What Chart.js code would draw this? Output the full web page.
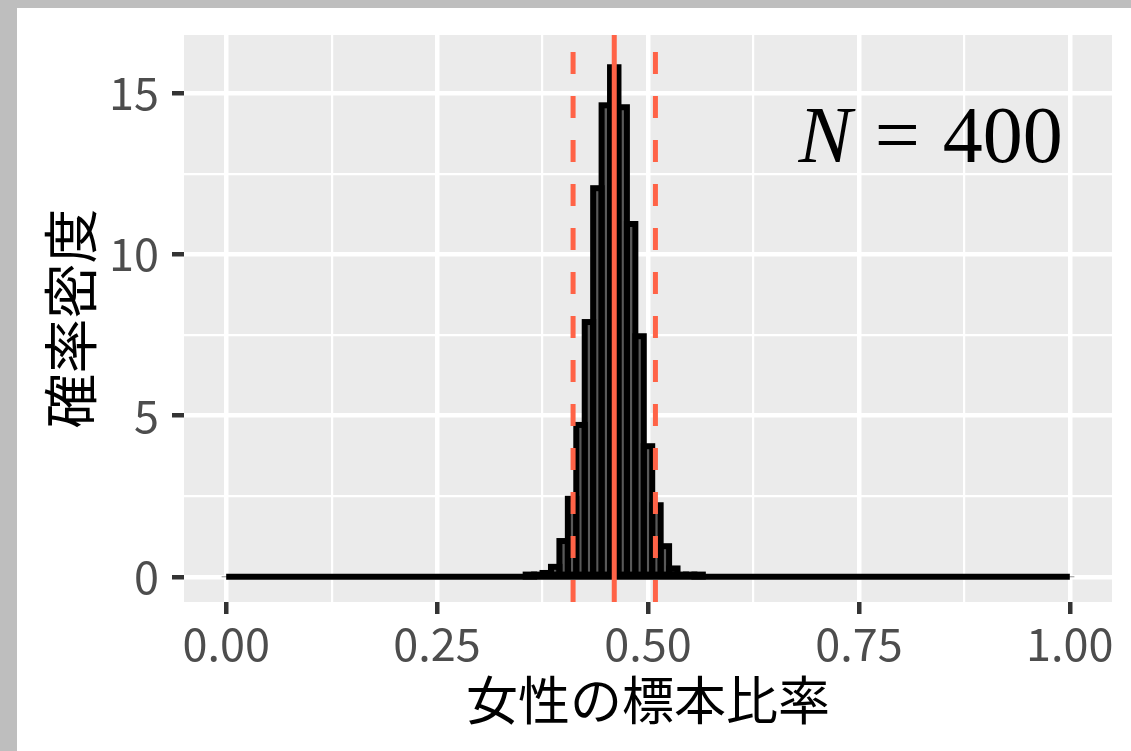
<!DOCTYPE html>
<html>
<head>
<meta charset="utf-8">
<script src="https://cdn.jsdelivr.net/npm/chart.js@4.4.1/dist/chart.umd.min.js"></script>
<style>
  html, body { margin: 0; padding: 0; background: #bebebe; }
  #wrap { position: absolute; left: 17px; top: 8px; width: 1114px; height: 743px; background: #ffffff; }
</style>
</head>
<body>
<div id="wrap"><canvas id="chart"></canvas></div>
<script>
// bin centres of the histogram (width 0.01)
const binCenters = [
  0.00, 0.01, 0.02, 0.03, 0.04, 0.05, 0.06, 0.07, 0.08, 0.09,
  0.10, 0.11, 0.12, 0.13, 0.14, 0.15, 0.16, 0.17, 0.18, 0.19,
  0.20, 0.21, 0.22, 0.23, 0.24, 0.25, 0.26, 0.27, 0.28, 0.29,
  0.30, 0.31, 0.32, 0.33, 0.34, 0.35, 0.36, 0.37, 0.38, 0.39,
  0.40, 0.41, 0.42, 0.43, 0.44, 0.45, 0.46, 0.47, 0.48, 0.49,
  0.50, 0.51, 0.52, 0.53, 0.54, 0.55, 0.56, 0.57, 0.58, 0.59,
  0.60, 0.61, 0.62, 0.63, 0.64, 0.65, 0.66, 0.67, 0.68, 0.69,
  0.70, 0.71, 0.72, 0.73, 0.74, 0.75, 0.76, 0.77, 0.78, 0.79,
  0.80, 0.81, 0.82, 0.83, 0.84, 0.85, 0.86, 0.87, 0.88, 0.89,
  0.90, 0.91, 0.92, 0.93, 0.94, 0.95, 0.96, 0.97, 0.98, 0.99,
  1.00
];
// density per bin
const density = [
  0, 0, 0, 0, 0, 0, 0, 0, 0, 0,
  0, 0, 0, 0, 0, 0, 0, 0, 0, 0,
  0, 0, 0, 0, 0, 0, 0, 0, 0, 0,
  0, 0, 0, 0, 0, 0, 0.01, 0.03, 0.12, 0.31,
  1.11, 2.42, 4.71, 7.90, 12.05, 14.62, 15.80, 14.56, 10.94, 7.46,
  4.05, 2.22, 0.95, 0.26, 0.07, 0.03, 0.01, 0, 0, 0,
  0, 0, 0, 0, 0, 0, 0, 0, 0, 0,
  0, 0, 0, 0, 0, 0, 0, 0, 0, 0,
  0, 0, 0, 0, 0, 0, 0, 0, 0, 0,
  0, 0, 0, 0, 0, 0, 0, 0, 0, 0,
  0
];

const meanProp = 0.46;
const ciLower = 0.4112;
const ciUpper = 0.5088;

const xMajor = [0, 0.25, 0.5, 0.75, 1];
const xMajorLabels = ['0.00', '0.25', '0.50', '0.75', '1.00'];
const xMinor = [0.125, 0.375, 0.625, 0.875];
const yMajor = [0, 5, 10, 15];
const yMajorLabels = ['0', '5', '10', '15'];
const yMinor = [2.5, 7.5, 12.5];

const xTitle = '女性の標本比率';
const yTitle = '確率密度';
const annotText = { italic: 'N', rest: '=', value: '400', x: 0.835, y: 12.85 };

const red = '#ff6347';
const tickFont = { family: '"Noto Sans CJK JP", "Noto Sans", sans-serif', size: 45 };

function isMajor(list, v) {
  return list.some(m => Math.abs(m - v) < 1e-9);
}

// ggplot-like bar outlines (centred on the bar edges), then the reference lines and N label
const overlayPlugin = {
  id: 'overlay',
  afterDatasetsDraw(chart) {
    const { ctx, chartArea, scales } = chart;

    const meta = chart.getDatasetMeta(1);
    ctx.save();
    ctx.strokeStyle = '#000000';
    ctx.lineWidth = 6;
    ctx.lineJoin = 'miter';
    meta.data.forEach((bar, i) => {
      if (!density[i]) return;
      const p = bar.getProps(['x', 'y', 'base', 'width'], true);
      ctx.strokeRect(p.x - p.width / 2, p.y, p.width, p.base - p.y);
    });
    ctx.restore();

    const lines = [
      { v: ciLower, dash: [22, 22] },
      { v: ciUpper, dash: [22, 22] },
      { v: meanProp, dash: [] }
    ];
    ctx.save();
    ctx.beginPath();
    ctx.rect(chartArea.left, chartArea.top, chartArea.right - chartArea.left, chartArea.bottom - chartArea.top);
    ctx.clip();
    ctx.strokeStyle = red;
    ctx.lineWidth = 5;
    lines.forEach(l => {
      const px = scales.x.getPixelForValue(l.v);
      ctx.setLineDash(l.dash);
      ctx.beginPath();
      ctx.moveTo(px, chartArea.bottom);
      ctx.lineTo(px, chartArea.top);
      ctx.stroke();
    });
    ctx.restore();

    const cx = scales.x.getPixelForValue(annotText.x);
    const cy = scales.y.getPixelForValue(annotText.y);
    const gap = 23;
    ctx.save();
    ctx.fillStyle = '#000000';
    ctx.textBaseline = 'alphabetic';
    const fItal = 'italic 80px "Liberation Serif"';
    const fReg = '80px "Liberation Serif"';
    ctx.font = fItal;
    const w1 = ctx.measureText(annotText.italic).width;
    ctx.font = fReg;
    const w2 = ctx.measureText(annotText.rest).width;
    const w3 = ctx.measureText(annotText.value).width;
    const total = w1 + gap + w2 + gap + w3;
    let x0 = cx - total / 2;
    ctx.font = fItal;
    ctx.fillText(annotText.italic, x0, cy);
    x0 += w1 + gap;
    ctx.font = fReg;
    ctx.fillText(annotText.rest, x0, cy);
    x0 += w2 + gap;
    ctx.fillText(annotText.value, x0, cy);
    ctx.restore();
  }
};

// grey panel background
const panelPlugin = {
  id: 'panel',
  beforeDraw(chart) {
    const { ctx, chartArea } = chart;
    ctx.save();
    ctx.fillStyle = '#ebebeb';
    ctx.fillRect(chartArea.left, chartArea.top, chartArea.right - chartArea.left, chartArea.bottom - chartArea.top);
    ctx.restore();
  }
};

const ctx = document.getElementById('chart');
new Chart(ctx, {
  type: 'bar',
  data: {
    datasets: [
      {
        type: 'line',
        data: binCenters.map(x => ({ x: x, y: 0 })),
        borderColor: '#000000',
        borderWidth: 6,
        pointRadius: 0,
        order: 1
      },
      {
        type: 'bar',
        data: binCenters.map((x, i) => ({ x: x, y: density[i] })),
        backgroundColor: '#595959',
        borderWidth: 0,
        barPercentage: 1,
        categoryPercentage: 1,
        order: 2
      }
    ]
  },
  options: {
    responsive: true,
    maintainAspectRatio: false,
    animation: false,
    layout: { padding: { left: 0, top: 27, right: 19, bottom: 0 } },
    plugins: {
      legend: { display: false },
      tooltip: { enabled: false }
    },
    scales: {
      x: {
        type: 'linear',
        min: -0.05,
        max: 1.05,
        offset: false,
        afterBuildTicks: scale => {
          scale.ticks = xMajor.concat(xMinor).sort((a, b) => a - b).map(v => ({ value: v }));
        },
        afterFit: scale => {
          scale.height = 149;
          scale.paddingLeft = 0;
          scale.paddingRight = 0;
        },
        ticks: {
          autoSkip: false,
          maxRotation: 0,
          padding: 3,
          color: '#4d4d4d',
          font: tickFont,
          callback: v => {
            const i = xMajor.findIndex(m => Math.abs(m - v) < 1e-9);
            return i >= 0 ? xMajorLabels[i] : '';
          }
        },
        grid: {
          offset: false,
          color: '#ffffff',
          lineWidth: c => isMajor(xMajor, c.tick.value) ? 4.5 : 2.2,
          tickLength: 12,
          tickWidth: 4.5,
          tickColor: c => isMajor(xMajor, c.tick.value) ? '#333333' : 'rgba(0,0,0,0)'
        },
        border: { display: false },
        title: {
          display: true,
          text: xTitle,
          color: '#000000',
          font: { family: '"Noto Sans CJK JP", sans-serif', size: 52 },
          padding: { top: 0, bottom: 20 }
        }
      },
      y: {
        type: 'linear',
        min: -0.78,
        max: 16.8,
        afterBuildTicks: scale => {
          scale.ticks = yMajor.concat(yMinor).sort((a, b) => a - b).map(v => ({ value: v }));
        },
        afterFit: scale => {
          scale.width = 167;
          scale.paddingTop = 0;
          scale.paddingBottom = 0;
        },
        ticks: {
          autoSkip: false,
          padding: 13,
          color: '#4d4d4d',
          font: tickFont,
          callback: v => {
            const i = yMajor.findIndex(m => Math.abs(m - v) < 1e-9);
            return i >= 0 ? yMajorLabels[i] : '';
          }
        },
        grid: {
          color: '#ffffff',
          lineWidth: c => isMajor(yMajor, c.tick.value) ? 4.5 : 2.2,
          tickLength: 12,
          tickWidth: 4.5,
          tickColor: c => isMajor(yMajor, c.tick.value) ? '#333333' : 'rgba(0,0,0,0)'
        },
        border: { display: false },
        title: {
          display: true,
          text: yTitle,
          color: '#000000',
          font: { family: '"Noto Sans CJK JP", sans-serif', size: 55 },
          padding: { top: 20, bottom: 0 }
        }
      }
    }
  },
  plugins: [panelPlugin, overlayPlugin]
});
</script>
</body>
</html>
